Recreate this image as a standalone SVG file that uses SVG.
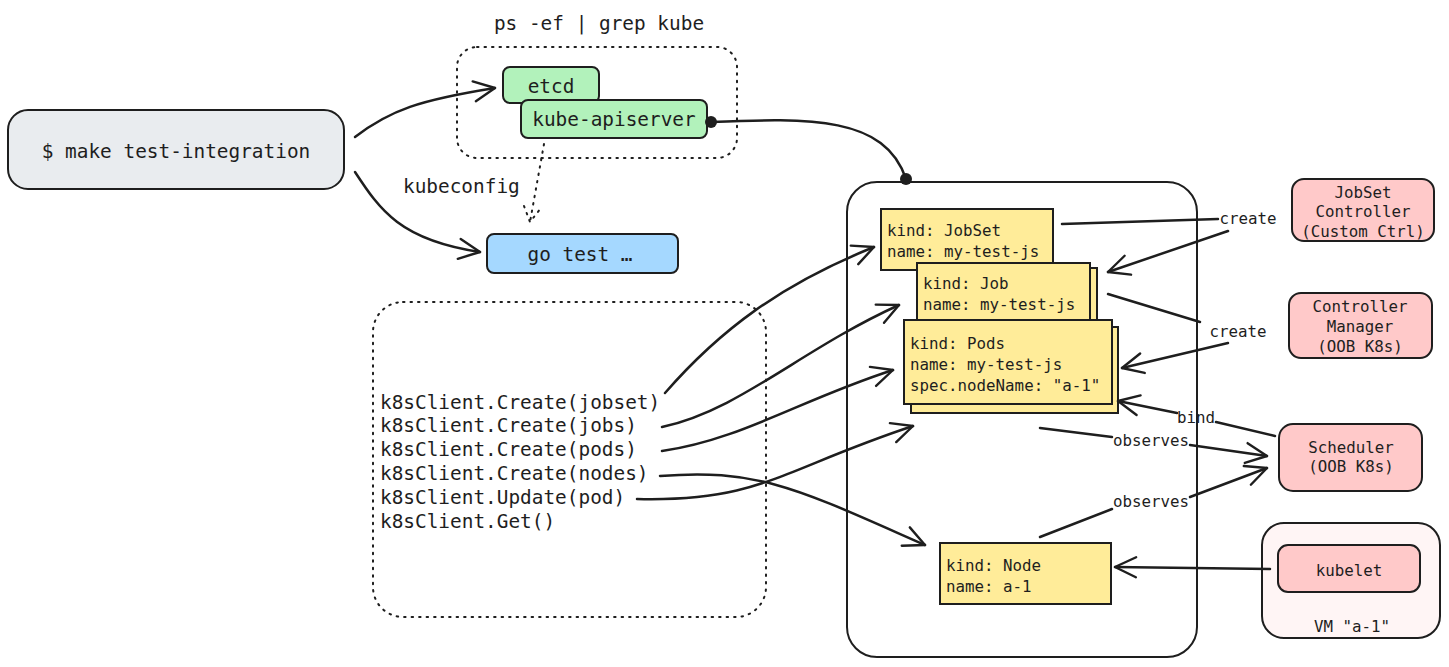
<svg xmlns="http://www.w3.org/2000/svg" width="1449" height="667" viewBox="0 0 1449 667">
<defs>
<style>
.t{font-family:"DejaVu Sans Mono","Liberation Mono",monospace;fill:#1e1e1e}
.big{font-size:19.4px}
.sm{font-size:15.8px}
.mid{text-anchor:middle;dominant-baseline:central}
.box{stroke:#1e1e1e;stroke-width:2}
.ln{fill:none;stroke:#1e1e1e;stroke-width:2.5;stroke-linecap:round}
.dot{fill:none;stroke:#1e1e1e;stroke-width:2;stroke-dasharray:1.5 6;stroke-linecap:round}
</style>
<marker id="arr" viewBox="0 0 26 26" refX="24" refY="13" markerWidth="26" markerHeight="26" markerUnits="userSpaceOnUse" orient="auto">
<path d="M3,3 L24,13 L3,23" fill="none" stroke="#1e1e1e" stroke-width="2.4" stroke-linecap="round" stroke-linejoin="round"/>
</marker>
</defs>
<rect width="1449" height="667" fill="#ffffff"/>

<g id="make">
<rect x="8" y="110" width="336" height="79" rx="20" fill="#e9ecef" class="box"/>
<text x="176" y="151" class="t big mid">$ make test-integration</text>
</g>

<g id="processes">
<text x="599" y="23" class="t big mid">ps -ef | grep kube</text>
<rect x="457" y="47" width="280" height="111" rx="20" class="dot"/>
</g>

<g id="etcd">
<rect x="503" y="67" width="96" height="36" rx="7" fill="#b2f2bb" class="box"/>
<text x="551" y="86" class="t big mid">etcd</text>
</g>

<g id="apiserver">
<rect x="521" y="100" width="186" height="38" rx="7" fill="#b2f2bb" class="box"/>
<text x="614" y="119" class="t big mid">kube-apiserver</text>
</g>

<g id="gotest">
<rect x="487" y="234" width="191" height="39" rx="7" fill="#a5d8ff" class="box"/>
<text x="580" y="254" class="t big mid">go test …</text>
</g>

<g id="clientcalls">
<rect x="373" y="302" width="393" height="315" rx="30" class="dot"/>
<text class="t big" x="380" y="409">k8sClient.Create(jobset)</text>
<text class="t big" x="380" y="432">k8sClient.Create(jobs)</text>
<text class="t big" x="380" y="456">k8sClient.Create(pods)</text>
<text class="t big" x="380" y="480">k8sClient.Create(nodes)</text>
<text class="t big" x="380" y="504">k8sClient.Update(pod)</text>
<text class="t big" x="380" y="528">k8sClient.Get()</text>
</g>

<g id="cluster">
<rect x="847" y="182" width="350" height="475" rx="30" fill="none" class="box"/>
</g>

<g id="jobset">
<rect x="881" y="209" width="172" height="61" fill="#ffec99" class="box"/>
<text class="t sm" x="887" y="236">kind: JobSet</text>
<text class="t sm" x="887" y="257">name: my-test-js</text>
</g>

<g id="job">
<rect x="924" y="268" width="173" height="54" fill="#ffec99" class="box"/>
<rect x="917" y="263" width="173" height="58" fill="#ffec99" class="box"/>
<text class="t sm" x="923" y="289">kind: Job</text>
<text class="t sm" x="923" y="310">name: my-test-js</text>
</g>

<g id="pods">
<rect x="911" y="327" width="207" height="86" fill="#ffec99" class="box"/>
<rect x="904" y="320" width="208" height="84" fill="#ffec99" class="box"/>
<text class="t sm" x="910" y="349">kind: Pods</text>
<text class="t sm" x="910" y="370">name: my-test-js</text>
<text class="t sm" x="910" y="391">spec.nodeName: "a-1"</text>
</g>

<g id="node">
<rect x="940" y="543" width="171" height="61" fill="#ffec99" class="box"/>
<text class="t sm" x="946" y="571">kind: Node</text>
<text class="t sm" x="946" y="592">name: a-1</text>
</g>

<g id="jobsetctrl">
<rect x="1292" y="179" width="142" height="62" rx="12" fill="#ffc9c9" class="box"/>
<text class="t sm mid" x="1363" y="192">JobSet</text>
<text class="t sm mid" x="1363" y="211">Controller</text>
<text class="t sm mid" x="1363" y="231">(Custom Ctrl)</text>
</g>

<g id="ctrlmgr">
<rect x="1289" y="293" width="143" height="65" rx="12" fill="#ffc9c9" class="box"/>
<text class="t sm mid" x="1360" y="306">Controller</text>
<text class="t sm mid" x="1360" y="326">Manager</text>
<text class="t sm mid" x="1360" y="346">(OOB K8s)</text>
</g>

<g id="scheduler">
<rect x="1279" y="424" width="143" height="67" rx="14" fill="#ffc9c9" class="box"/>
<text class="t sm mid" x="1351" y="447">Scheduler</text>
<text class="t sm mid" x="1351" y="466">(OOB K8s)</text>
</g>

<g id="vm">
<rect x="1262" y="523" width="178" height="115" rx="22" fill="#fff5f5" class="box"/>
<text class="t sm mid" x="1352" y="626">VM "a-1"</text>
</g>

<g id="kubelet">
<rect x="1278" y="545" width="142" height="47" rx="10" fill="#ffc9c9" class="box"/>
<text class="t sm mid" x="1349" y="570">kubelet</text>
</g>

<g id="connectors">
<path class="ln" d="M355,137 C390,110 420,100 495,88" marker-end="url(#arr)"/>
<path class="ln" d="M355,172 C380,210 400,240 480,252" marker-end="url(#arr)"/>
<path class="ln" d="M711,122 C810,118 885,116 906,179"/>
<circle cx="711" cy="122" r="6" fill="#1e1e1e"/>
<circle cx="906" cy="179" r="6" fill="#1e1e1e"/>
<path class="dot" d="M544,144 L530,222"/>
<path class="dot" d="M524,206 L530,222 L541,208"/>
<text class="t big" x="403" y="193">kubeconfig</text>

<path class="ln" d="M665,393 C720,330 780,285 874,247" marker-end="url(#arr)"/>
<path class="ln" d="M662,427 C740,410 800,350 899,305" marker-end="url(#arr)"/>
<path class="ln" d="M662,451 C740,440 800,400 893,370" marker-end="url(#arr)"/>
<path class="ln" d="M660,476 C760,468 800,490 925,545" marker-end="url(#arr)"/>
<path class="ln" d="M637,499 C760,502 780,470 913,426" marker-end="url(#arr)"/>

<path class="ln" d="M1062,224 L1218,219"/>
<path class="ln" d="M1228,231 L1108,272" marker-end="url(#arr)"/>
<text class="t sm mid" x="1248" y="218">create</text>

<path class="ln" d="M1108,294 L1200,322"/>
<path class="ln" d="M1228,343 L1122,368" marker-end="url(#arr)"/>
<text class="t sm mid" x="1238" y="331">create</text>

<path class="ln" d="M1275,436 L1216,422"/>
<path class="ln" d="M1177,413 L1118,401" marker-end="url(#arr)"/>
<text class="t sm mid" x="1196" y="417">bind</text>

<path class="ln" d="M1040,428 L1112,437"/>
<path class="ln" d="M1190,445 L1267,456" marker-end="url(#arr)"/>
<text class="t sm mid" x="1151" y="440">observes</text>

<path class="ln" d="M1040,537 L1112,509"/>
<path class="ln" d="M1190,497 L1267,468" marker-end="url(#arr)"/>
<text class="t sm mid" x="1151" y="501">observes</text>

<path class="ln" d="M1270,569 L1115,567" marker-end="url(#arr)"/>
</g>
</svg>
